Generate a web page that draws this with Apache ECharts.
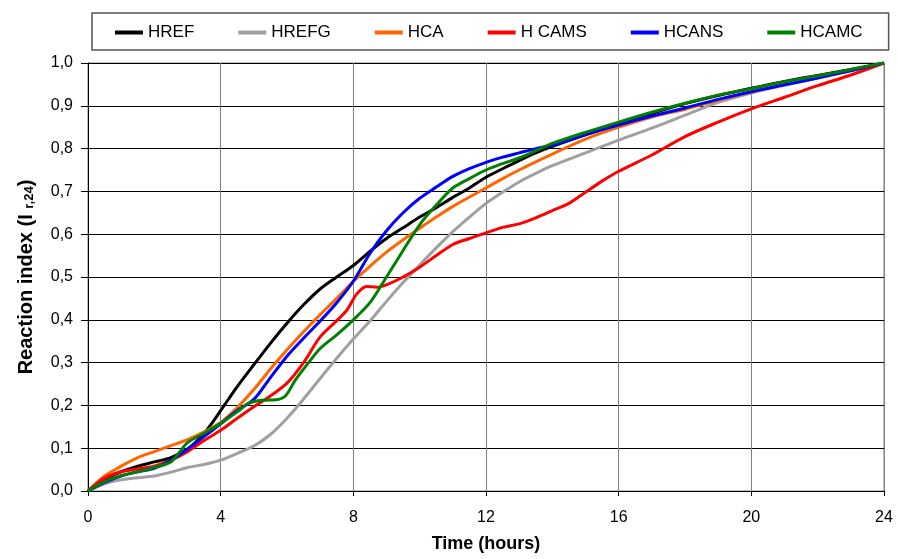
<!DOCTYPE html>
<html>
<head>
<meta charset="utf-8">
<title>Reaction index</title>
<script src="https://cdn.jsdelivr.net/npm/echarts@6/dist/echarts.min.js"></script>
<style>
  html, body { margin: 0; padding: 0; background: #fff; }
  #chart { width: 898px; height: 559px; }
</style>
</head>
<body>
<div id="chart"></div>
<script>
// series names (legend order)
const seriesNames = ['HREF', 'HREFG', 'HCA', 'H CAMS', 'HCANS', 'HCAMC']
const seriesColors = ['#000000', '#A0A0A0', '#FF6600', '#FF0000', '#0000FF', '#008000']

// [time (hours), reaction index]
const hrefData = [[0,0],[0.5,0.028],[1,0.045],[1.5,0.058],[2,0.068],[2.5,0.078],[3,0.098],[3.25,0.114],[3.5,0.135],[3.75,0.16],[4,0.188],[4.5,0.244],[5,0.295],[5.5,0.345],[6,0.392],[6.5,0.435],[7,0.472],[7.5,0.5],[8,0.527],[8.5,0.56],[9,0.59],[9.5,0.615],[10,0.64],[10.5,0.662],[11,0.686],[11.5,0.708],[12,0.733],[12.5,0.753],[13,0.772],[13.5,0.79],[14,0.805],[15,0.832],[16,0.857],[17,0.882],[18,0.905],[19,0.924],[20,0.941],[21,0.957],[22,0.971],[23,0.985],[24,1.0]]
const hrefgData = [[0,0],[0.5,0.017],[1,0.026],[1.5,0.031],[2,0.035],[2.5,0.044],[3,0.055],[3.5,0.062],[4,0.072],[4.5,0.088],[5,0.105],[5.5,0.132],[6,0.17],[6.5,0.215],[7,0.263],[7.5,0.31],[8,0.355],[8.5,0.397],[9,0.443],[9.5,0.487],[10,0.528],[10.5,0.568],[11,0.606],[11.5,0.64],[12,0.672],[12.5,0.698],[13,0.722],[13.5,0.742],[14,0.76],[15,0.79],[16,0.82],[17,0.848],[18,0.878],[19,0.908],[20,0.93],[21,0.948],[22,0.965],[23,0.983],[24,1.0]]
const hcaData = [[0,0],[0.5,0.035],[1,0.058],[1.5,0.078],[2,0.092],[2.5,0.106],[3,0.12],[3.5,0.138],[4,0.16],[4.5,0.195],[5,0.237],[5.5,0.285],[6,0.33],[6.5,0.372],[7,0.412],[7.5,0.45],[8,0.49],[8.5,0.525],[9,0.558],[9.5,0.587],[10,0.614],[10.5,0.64],[11,0.665],[11.5,0.687],[12,0.708],[12.5,0.73],[13,0.75],[13.5,0.769],[14,0.787],[15,0.822],[16,0.85],[17,0.874],[18,0.892],[19,0.913],[20,0.932],[21,0.95],[22,0.966],[23,0.983],[24,1.0]]
const hcamsData = [[0,0],[0.5,0.03],[1,0.045],[1.5,0.052],[2,0.058],[2.5,0.072],[3,0.092],[3.5,0.118],[4,0.142],[4.5,0.17],[5,0.197],[5.5,0.222],[6,0.252],[6.5,0.3],[7,0.36],[7.5,0.398],[7.8,0.422],[8.1,0.46],[8.4,0.478],[8.7,0.476],[9.1,0.485],[9.5,0.5],[10,0.523],[10.5,0.55],[11,0.576],[11.5,0.59],[12,0.603],[12.5,0.616],[13,0.624],[13.5,0.638],[14,0.655],[14.5,0.672],[15,0.698],[15.5,0.724],[16,0.747],[17,0.785],[18,0.828],[19,0.862],[20,0.893],[21,0.92],[22,0.947],[23,0.972],[24,1.0]]
const hcansData = [[0,0],[0.5,0.02],[1,0.035],[1.5,0.045],[2,0.053],[2.5,0.072],[3,0.098],[3.5,0.127],[4,0.157],[4.5,0.188],[5,0.214],[5.5,0.265],[6,0.315],[6.5,0.357],[7,0.397],[7.5,0.44],[8,0.49],[8.5,0.555],[9,0.608],[9.5,0.65],[10,0.684],[10.5,0.71],[11,0.735],[11.5,0.753],[12,0.768],[12.5,0.78],[13,0.79],[13.5,0.8],[14,0.808],[15,0.833],[16,0.855],[17,0.876],[18,0.895],[19,0.915],[20,0.933],[21,0.949],[22,0.965],[23,0.982],[24,1.0]]
const hcamcData = [[0,0],[0.5,0.022],[1,0.036],[1.5,0.045],[2,0.055],[2.5,0.068],[2.75,0.09],[3,0.113],[3.5,0.135],[4,0.158],[4.5,0.185],[4.85,0.205],[5.25,0.212],[5.65,0.213],[5.95,0.222],[6.25,0.259],[6.65,0.3],[7,0.333],[7.5,0.365],[8,0.4],[8.5,0.44],[9,0.5],[9.5,0.562],[10,0.622],[10.5,0.668],[11,0.708],[11.5,0.73],[12,0.75],[12.5,0.765],[13,0.778],[13.5,0.795],[14,0.812],[15,0.838],[16,0.862],[17,0.885],[18,0.906],[19,0.925],[20,0.94],[21,0.956],[22,0.97],[23,0.985],[24,1.0]]

const allData = [hrefData, hrefgData, hcaData, hcamsData, hcansData, hcamcData]

// axis ticks
const xTicks = { min: 0, max: 24, interval: 4 }
const yTicks = { min: 0, max: 1, interval: 0.1 }

const font = '"Liberation Sans", Arial, sans-serif'

const chart = echarts.init(document.getElementById('chart'))

const option = {
  backgroundColor: '#fff',
  animation: false,
  legend: {
    left: 92,
    top: 13,
    padding: [11, 26, 9, 23],
    itemGap: 44,
    itemWidth: 28,
    itemHeight: 4,
    icon: 'rect',
    borderColor: '#555',
    borderWidth: 1.5,
    textStyle: { fontFamily: font, fontSize: 17, color: '#000' },
    data: seriesNames
  },
  grid: {
    left: 88,
    right: 14,
    top: 63,
    bottom: 68,
    show: true,
    borderColor: '#808080',
    borderWidth: 1
  },
  xAxis: {
    type: 'value',
    min: xTicks.min,
    max: xTicks.max,
    interval: xTicks.interval,
    name: 'Time (hours)',
    nameLocation: 'middle',
    nameGap: 44,
    nameTextStyle: { fontFamily: font, fontSize: 18, fontWeight: 'bold', color: '#000' },
    axisLine: { lineStyle: { color: '#000', width: 1 } },
    axisTick: { length: 5, lineStyle: { color: '#000' } },
    axisLabel: { fontFamily: font, fontSize: 16, color: '#000', margin: 19 },
    splitLine: { lineStyle: { color: '#808080', width: 1 } }
  },
  yAxis: {
    type: 'value',
    min: yTicks.min,
    max: yTicks.max,
    interval: yTicks.interval,
    name: 'Reaction index (I {sub|r,24})',
    nameLocation: 'middle',
    nameGap: 52,
    nameTextStyle: {
      fontFamily: font,
      fontSize: 20,
      fontWeight: 'bold',
      color: '#000',
      rich: {
        sub: { fontFamily: font, fontSize: 13, fontWeight: 'bold', color: '#000', verticalAlign: 'bottom', padding: [6, 0, 0, 0] }
      }
    },
    axisLine: { show: true, lineStyle: { color: '#000', width: 1 } },
    axisTick: { show: true, length: 7, lineStyle: { color: '#000' } },
    axisLabel: {
      fontFamily: font,
      fontSize: 16,
      color: '#000',
      margin: 15,
      formatter: function (v) { return v.toFixed(1).replace('.', ',') }
    },
    splitLine: { lineStyle: { color: '#000', width: 1 } }
  },
  series: seriesNames.map(function (name, i) {
    return {
      name: name,
      type: 'line',
      data: allData[i],
      smooth: 0.3,
      showSymbol: false,
      color: seriesColors[i],
      lineStyle: { width: 3, color: seriesColors[i] }
    }
  })
}

chart.setOption(option)
</script>
</body>
</html>
